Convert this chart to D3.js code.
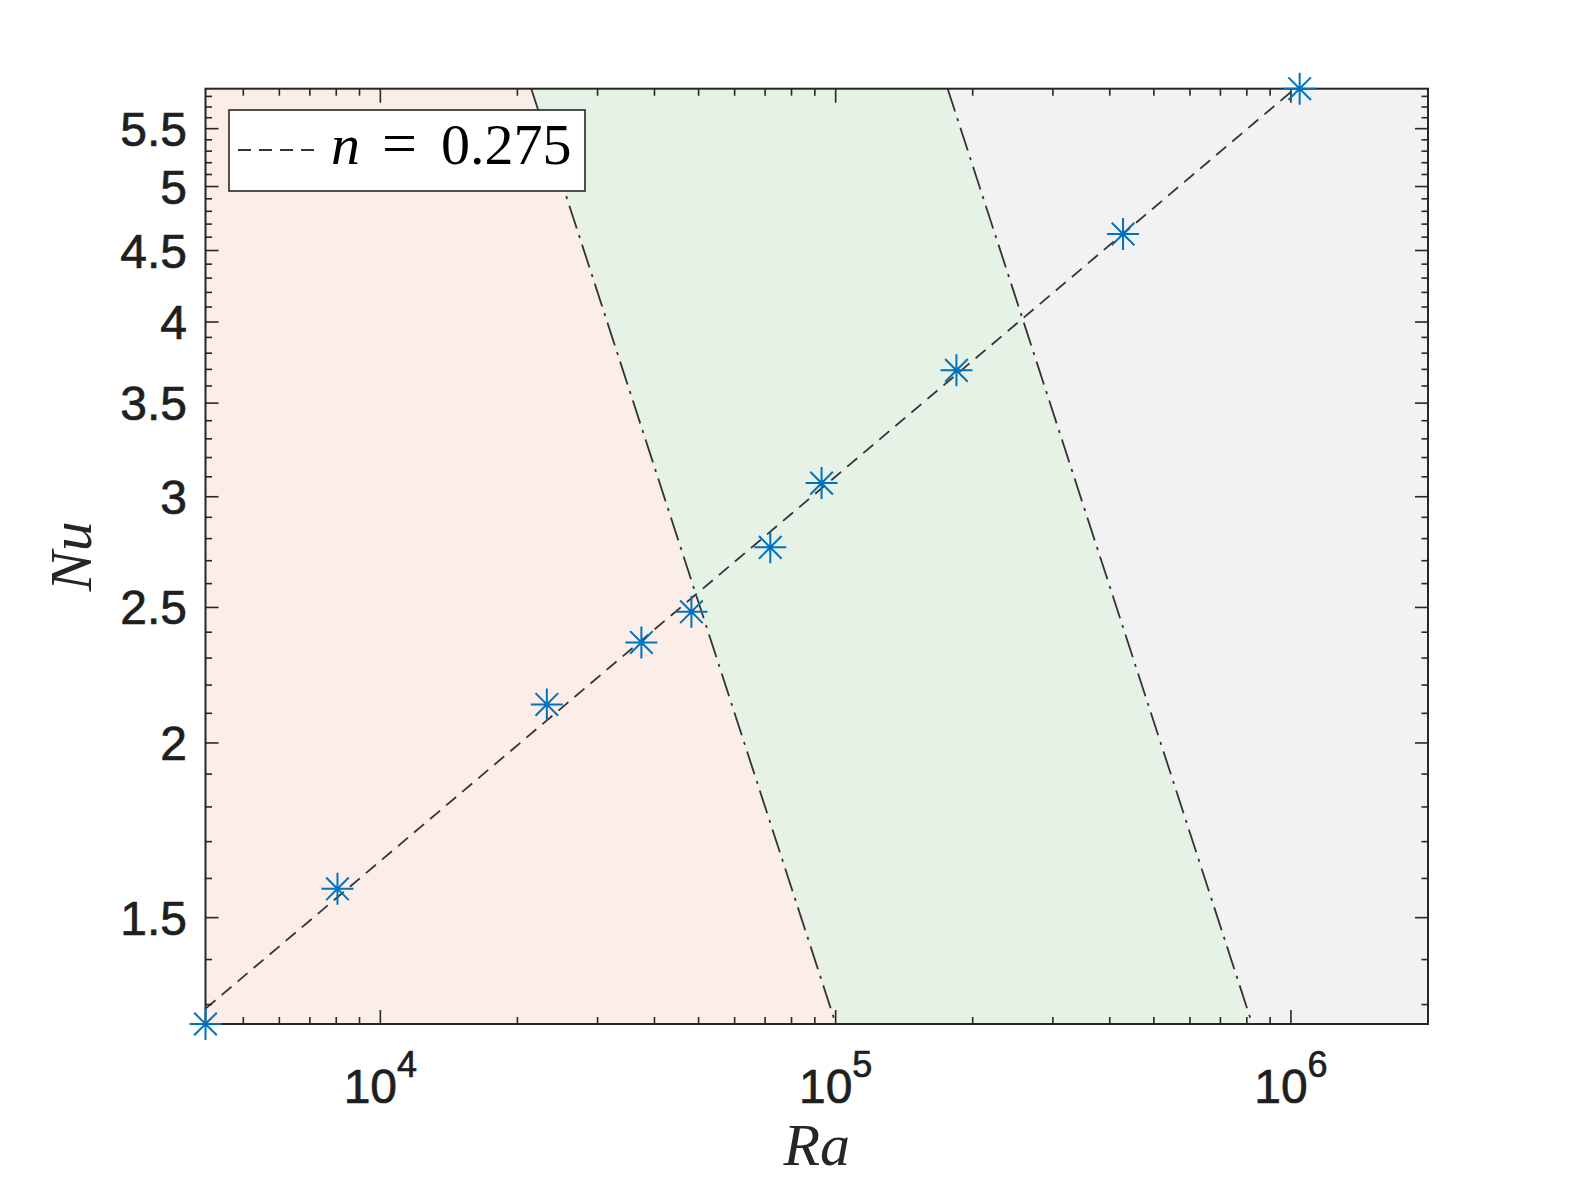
<!DOCTYPE html>
<html>
<head>
<meta charset="utf-8">
<script src="https://cdn.jsdelivr.net/npm/d3@7"></script>
<style>
  html, body { margin: 0; padding: 0; background: #fff; }
  svg { display: block; }
</style>
</head>
<body>
<svg id="chart" width="1578" height="1183"></svg>
<script>
// ---- data ----
const Ra = [4130, 8050, 23210, 37440, 48220, 71850, 93120, 184200, 427800, 1045000];
const Nu = [1.259, 1.573, 2.131, 2.360, 2.482, 2.760, 3.068, 3.694, 4.624, 5.874];
const xLim = [4130, 2e6];
const yLim = [1.259, 5.874];
const xTickExp = [4, 5, 6];
const yTicks = [1.5, 2, 2.5, 3, 3.5, 4, 4.5, 5, 5.5];
const fitExponent = 0.275;
const fitCoef = 0.1308;
const boundaryRaNu = [1.26e5, 1.035e6];   // Ra*Nu = const regime boundaries
const regionColors = ["#fbeee8", "#e5f2e5", "#f2f2f2"];
const legendLabel = ["n", "=", "0.275"];

// ---- layout ----
const svg = d3.select("#chart");
const L = 205.5, R = 1428, T = 88.7, B = 1024;
const x = d3.scaleLog().domain(xLim).range([L, R]);
const y = d3.scaleLog().domain(yLim).range([B, T]);
const axisColor = "#262626";

svg.append("defs").append("clipPath").attr("id", "plotclip")
  .append("rect").attr("x", L).attr("y", T).attr("width", R - L).attr("height", B - T);

const plot = svg.append("g").attr("clip-path", "url(#plotclip)");

// boundary lines: Ra = K / Nu
const bx = (K, nu) => x(K / nu);
const yTop = yLim[1], yBot = yLim[0];
const b1 = boundaryRaNu[0], b2 = boundaryRaNu[1];

// regions
const poly = pts => pts.map(p => p.join(",")).join(" ");
plot.append("polygon").attr("fill", regionColors[0])
  .attr("points", poly([[L, T], [bx(b1, yTop), T], [bx(b1, yBot), B], [L, B]]));
plot.append("polygon").attr("fill", regionColors[1])
  .attr("points", poly([[bx(b1, yTop), T], [bx(b2, yTop), T], [bx(b2, yBot), B], [bx(b1, yBot), B]]));
plot.append("polygon").attr("fill", regionColors[2])
  .attr("points", poly([[bx(b2, yTop), T], [R, T], [R, B], [bx(b2, yBot), B]]));

// boundary dash-dot lines
boundaryRaNu.forEach(K => {
  plot.append("line")
    .attr("x1", bx(K, yTop)).attr("y1", y(yTop))
    .attr("x2", bx(K, yBot)).attr("y2", y(yBot))
    .attr("stroke", "#333").attr("stroke-width", 1.8)
    .attr("stroke-dasharray", "24,7,3,7");
});

// fit line
const fitLine = d3.line().x(d => x(d)).y(d => y(fitCoef * Math.pow(d, fitExponent)));
plot.append("path").datum(xLim)
  .attr("d", fitLine)
  .attr("fill", "none").attr("stroke", "#333").attr("stroke-width", 1.8)
  .attr("stroke-dasharray", "13,8");

// axes ticks (inward, all four sides)
const ticks = svg.append("g").attr("stroke", axisColor);
const xMinor = [];
for (let e = 3; e <= 6; e++) for (let m = 1; m <= 9; m++) {
  const v = m * Math.pow(10, e);
  if (v >= xLim[0] && v <= xLim[1]) xMinor.push({v, major: m === 1});
}
xMinor.forEach(t => {
  const len = t.major ? 14 : 7;
  const px = x(t.v);
  ticks.append("line").attr("x1", px).attr("x2", px).attr("y1", B).attr("y2", B - len).attr("stroke-width", 1.6);
  ticks.append("line").attr("x1", px).attr("x2", px).attr("y1", T).attr("y2", T + len).attr("stroke-width", 1.6);
});
const yAll = [];
for (let k = 13; k <= 58; k++) {
  const v = k / 10;
  if (v >= yLim[0] && v <= yLim[1]) yAll.push({v, major: yTicks.some(t => Math.abs(t - v) < 1e-9)});
}
yAll.forEach(t => {
  const len = t.major ? 13 : 6.5;
  const py = y(t.v);
  ticks.append("line").attr("x1", L).attr("x2", L + len).attr("y1", py).attr("y2", py).attr("stroke-width", 1.6);
  ticks.append("line").attr("x1", R).attr("x2", R - len).attr("y1", py).attr("y2", py).attr("stroke-width", 1.6);
});

// axes box
svg.append("rect").attr("x", L).attr("y", T).attr("width", R - L).attr("height", B - T)
  .attr("fill", "none").attr("stroke", axisColor).attr("stroke-width", 2);

// tick labels
const sans = "'Liberation Sans', Arial, Helvetica, sans-serif";
svg.append("g").selectAll("text").data(yTicks).join("text")
  .attr("x", 187).attr("y", d => y(d) + 17)
  .attr("text-anchor", "end")
  .attr("font-family", sans).attr("font-size", 48).attr("fill", "#1f1f1f")
  .attr("stroke", "#1f1f1f").attr("stroke-width", 0.7)
  .text(d => d);

const xl = svg.append("g").selectAll("text").data(xTickExp).join("text")
  .attr("x", d => x(Math.pow(10, d))).attr("y", 1103)
  .attr("text-anchor", "middle")
  .attr("font-family", sans).attr("font-size", 48).attr("fill", "#1f1f1f")
  .attr("stroke", "#1f1f1f").attr("stroke-width", 0.7);
xl.append("tspan").text("10");
xl.append("tspan").attr("font-size", 36).attr("dy", -26).text(d => d);

// axis labels
const serif = "'Liberation Serif', 'Times New Roman', serif";
svg.append("text").attr("x", (L + R) / 2).attr("y", 1165)
  .attr("text-anchor", "middle").attr("font-family", serif).attr("font-style", "italic")
  .attr("font-size", 60).attr("fill", axisColor).text("Ra");
svg.append("text").attr("transform", `translate(91, ${(T + B) / 2}) rotate(-90)`)
  .attr("text-anchor", "middle").attr("font-family", serif).attr("font-style", "italic")
  .attr("font-size", 60).attr("fill", axisColor).text("Nu");

// markers (asterisk, not clipped)
const mk = svg.append("g").attr("stroke", "#0072BD").attr("stroke-width", 2).attr("fill", "none");
const r = 16, d45 = r * Math.SQRT1_2;
Ra.forEach((ra, i) => {
  const cx = x(ra), cy = y(Nu[i]);
  mk.append("path").attr("d",
    `M${cx - r},${cy}L${cx + r},${cy}M${cx},${cy - r}L${cx},${cy + r}` +
    `M${cx - d45},${cy - d45}L${cx + d45},${cy + d45}M${cx - d45},${cy + d45}L${cx + d45},${cy - d45}`);
});

// legend
const lg = svg.append("g");
lg.append("rect").attr("x", 229).attr("y", 110).attr("width", 356).attr("height", 81)
  .attr("fill", "#fff").attr("stroke", axisColor).attr("stroke-width", 1.6);
lg.append("line").attr("x1", 238).attr("x2", 317).attr("y1", 150).attr("y2", 150)
  .attr("stroke", "#333").attr("stroke-width", 1.8).attr("stroke-dasharray", "13,8");
const lt = lg.append("text").attr("y", 164).attr("font-family", serif).attr("font-size", 58).attr("fill", "#000");
lt.append("tspan").attr("x", 331).attr("font-style", "italic").text(legendLabel[0]);
lt.append("tspan").attr("x", 382).attr("font-size", 62).text(legendLabel[1]);
lt.append("tspan").attr("x", 441).text(legendLabel[2]);
</script>
</body>
</html>
